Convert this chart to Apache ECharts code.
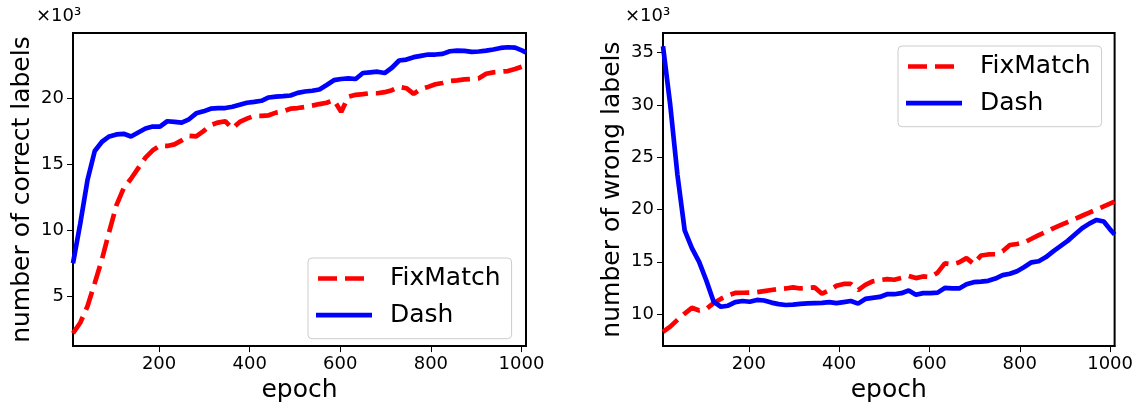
<!DOCTYPE html>
<html>
<head>
<meta charset="utf-8">
<title>FixMatch vs Dash</title>
<script src="https://cdn.jsdelivr.net/npm/echarts@6/dist/echarts.min.js"></script>
<style>
	html, body { margin: 0; padding: 0; background: #fff; }
	#chart { width: 1136px; height: 408px; }
</style>
</head>
<body>
<div id="chart"></div>
<script>
'use strict';

//   epochs (x)
var epochs = [10, 26, 42, 58, 74, 90, 106, 122, 138, 154, 170, 186, 202, 218, 234, 250,
	266, 282, 298, 314, 330, 346, 362, 378, 394, 410, 426, 442, 458, 474, 490, 506,
	522, 538, 554, 570, 586, 602, 618, 634, 650, 666, 682, 698, 714, 730, 746, 762,
	778, 794, 810, 826, 842, 858, 874, 890, 906, 922, 938, 954, 970, 986, 1002, 1010];

//   number of correct labels (x10^3)
var fixCorrect = [2.2, 3.0, 4.25, 6.0, 7.8, 9.9, 11.9, 13.2, 13.9, 14.7, 15.5, 16.05, 16.4, 16.38, 16.5, 16.8,
	17.15, 17.1, 17.5, 17.95, 18.15, 18.25, 17.7, 18.2, 18.45, 18.66, 18.66, 18.7, 18.9, 19.0, 19.2, 19.25,
	19.33, 19.43, 19.55, 19.65, 19.85, 18.96, 20.1, 20.25, 20.3, 20.37, 20.37, 20.45, 20.6, 20.85, 20.75, 20.32,
	20.7, 20.85, 21.05, 21.15, 21.3, 21.35, 21.42, 21.45, 21.5, 21.85, 21.95, 22.0, 22.05, 22.2, 22.4, 22.45];
var dashCorrect = [7.5, 10.5, 13.8, 16.0, 16.7, 17.1, 17.25, 17.3, 17.1, 17.4, 17.7, 17.85, 17.85, 18.25, 18.2, 18.15,
	18.4, 18.85, 19.0, 19.2, 19.25, 19.25, 19.35, 19.5, 19.65, 19.72, 19.8, 20.05, 20.12, 20.15, 20.2, 20.4,
	20.5, 20.56, 20.65, 21.0, 21.36, 21.45, 21.5, 21.45, 21.9, 21.95, 22.0, 21.9, 22.3, 22.85, 22.92, 23.1,
	23.2, 23.3, 23.3, 23.35, 23.55, 23.6, 23.58, 23.5, 23.53, 23.6, 23.68, 23.8, 23.85, 23.82, 23.6, 23.45];

//   number of wrong labels (x10^3)
var fixWrong = [8.3, 8.8, 9.45, 10.05, 10.6, 10.35, 10.5, 11.05, 11.45, 11.8, 12.02, 12.04, 12.05, 12.1, 12.2, 12.3,
	12.4, 12.45, 12.55, 12.45, 12.5, 12.55, 11.95, 12.26, 12.7, 12.88, 12.88, 12.3, 12.8, 13.13, 13.25, 13.34,
	13.28, 13.45, 13.65, 13.44, 13.6, 13.55, 13.96, 14.85, 14.75, 14.95, 15.35, 14.8, 15.6, 15.7, 15.72, 16.0,
	16.6, 16.7, 16.85, 17.2, 17.55, 17.85, 18.2, 18.5, 18.8, 19.1, 19.4, 19.7, 20.0, 20.3, 20.6, 20.75];
var dashWrong = [35.6, 30.0, 23.3, 18.0, 16.3, 15.0, 13.2, 11.2, 10.7, 10.8, 11.15, 11.25, 11.18, 11.35, 11.3, 11.1,
	10.95, 10.87, 10.9, 10.98, 11.02, 11.05, 11.08, 11.15, 11.05, 11.15, 11.25, 11.0, 11.45, 11.55, 11.64, 11.9,
	11.9, 12.0, 12.25, 11.85, 12.0, 12.0, 12.05, 12.5, 12.45, 12.45, 12.85, 13.05, 13.1, 13.18, 13.4, 13.72,
	13.85, 14.1, 14.5, 14.95, 15.05, 15.45, 16.0, 16.5, 17.0, 17.6, 18.2, 18.65, 19.0, 18.85, 18.0, 17.6];

//   tick labels
var xTicks = [200, 400, 600, 800, 1000];
var correctTicks = [5, 10, 15, 20];
var wrongTicks = [10, 15, 20, 25, 30, 35];

var FONT = 'DejaVu Sans';

//   legend handles (two dashes / one solid bar)
var DASH_ICON = 'path://M0,2h0.01v0.01h-0.01z M2,0h19v4.7h-19z M29,0h19v4.7h-19z M55.99,2h0.01v0.01h-0.01z';
var SOLID_ICON = 'path://M0,0h56v4.7h-56z';

function pairs(arr) {
	return epochs.map(function(e, i) { return [e, arr[i]]; });
}

function plainNum(v) {
	return String(v);
}

function xAxisOf(idx) {
	return {
		type: 'value', gridIndex: idx, min: 10, max: 1010,
		name: 'epoch', nameLocation: 'middle', nameGap: 27,
		nameTextStyle: { fontFamily: FONT, fontSize: 25, color: '#000' },
		axisLine: { show: true, onZero: false, lineStyle: { color: '#000', width: 2 } },
		axisTick: { show: true, length: 6, customValues: xTicks, lineStyle: { color: '#000', width: 1 } },
		axisLabel: { customValues: xTicks, formatter: plainNum, margin: 9, fontFamily: FONT, fontSize: 18, color: '#000' },
		splitLine: { show: false }
	};
}

function yAxisOf(idx, min, max, ticks, title) {
	return {
		type: 'value', gridIndex: idx, min: min, max: max,
		name: title, nameLocation: 'middle', nameGap: 38,
		nameTextStyle: { fontFamily: FONT, fontSize: 25, color: '#000' },
		axisLine: { show: true, onZero: false, lineStyle: { color: '#000', width: 2 } },
		axisTick: { show: true, length: 6, customValues: ticks, lineStyle: { color: '#000', width: 1 } },
		axisLabel: { customValues: ticks, formatter: plainNum, margin: 9, fontFamily: FONT, fontSize: 18, color: '#000' },
		splitLine: { show: false }
	};
}

function lineSeries(name, idx, arr, color, dashed) {
	return {
		name: name, type: 'line', xAxisIndex: idx, yAxisIndex: idx,
		data: pairs(arr), showSymbol: false, symbol: 'none',
		lineStyle: { color: color, width: 4.7, type: dashed ? [19, 8] : 'solid' },
		itemStyle: { color: color }
	};
}

function legendOf(left, top) {
	return {
		data: [{ name: 'FixMatch', icon: DASH_ICON }, { name: 'Dash', icon: SOLID_ICON }],
		orient: 'vertical', left: left, top: top,
		itemWidth: 56, itemHeight: 4.7, itemGap: 9.7,
		padding: [7, 11, 10, 8],
		backgroundColor: 'rgba(255,255,255,0.8)',
		borderColor: '#cccccc', borderWidth: 1, borderRadius: 4,
		textStyle: { fontFamily: FONT, fontSize: 25, lineHeight: 27, color: '#000', padding: [0, 0, 0, 13] }
	};
}

var chart = echarts.init(document.getElementById('chart'), null, { renderer: 'canvas' });

chart.setOption({
	animation: false,
	backgroundColor: '#fff',
	grid: [
		{ left: 73, top: 33, width: 453, height: 319, show: true, borderColor: '#000', borderWidth: 2 },
		{ left: 663, top: 33, width: 453, height: 319, show: true, borderColor: '#000', borderWidth: 2 }
	],
	xAxis: [xAxisOf(0), xAxisOf(1)],
	yAxis: [
		yAxisOf(0, 1.23, 24.93, correctTicks, 'number of correct labels'),
		yAxisOf(1, 6.94, 36.87, wrongTicks, 'number of wrong labels')
	],
	legend: [legendOf(308, 258), legendOf(898, 46)],
	//   ×10^3 offset text
	graphic: [
		{ type: 'text', left: 36, top: 7, style: { text: '×10³', font: '18px "DejaVu Sans"', fill: '#000' } },
		{ type: 'text', left: 625, top: 7, style: { text: '×10³', font: '18px "DejaVu Sans"', fill: '#000' } }
	],
	series: [
		lineSeries('FixMatch', 0, fixCorrect, '#ff0000', true),
		lineSeries('Dash', 0, dashCorrect, '#0000ff', false),
		lineSeries('FixMatch', 1, fixWrong, '#ff0000', true),
		lineSeries('Dash', 1, dashWrong, '#0000ff', false)
	]
});
</script>
</body>
</html>
